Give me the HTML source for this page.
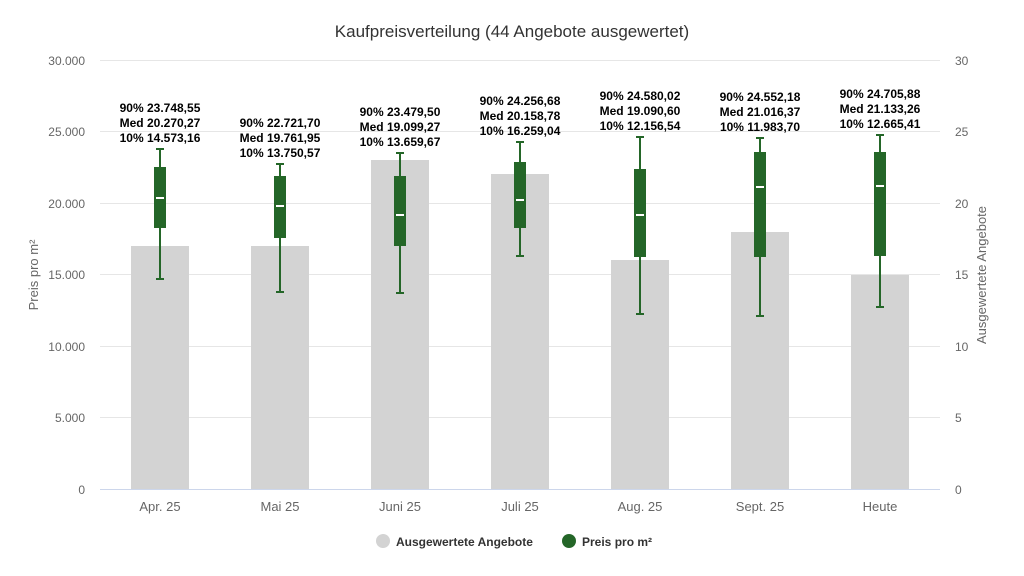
<!DOCTYPE html>
<html><head><meta charset="utf-8"><style>
body{margin:0;background:#fff;}
svg{display:block;font-family:"Liberation Sans",Arial,sans-serif;}
</style></head><body>
<svg width="1024" height="576" viewBox="0 0 1024 576">
<rect width="1024" height="576" fill="#fff"/>
<text x="512" y="37" text-anchor="middle" font-size="17" fill="#333">Kaufpreisverteilung (44 Angebote ausgewertet)</text>
<g stroke="#e6e6e6" stroke-width="1">
<line x1="100" x2="940" y1="60.5" y2="60.5"/>
<line x1="100" x2="940" y1="131.5" y2="131.5"/>
<line x1="100" x2="940" y1="203.5" y2="203.5"/>
<line x1="100" x2="940" y1="274.5" y2="274.5"/>
<line x1="100" x2="940" y1="346.5" y2="346.5"/>
<line x1="100" x2="940" y1="417.5" y2="417.5"/>
</g>
<line x1="100" x2="940" y1="489.5" y2="489.5" stroke="#ccd6eb"/>
<g font-size="12" fill="#666" text-anchor="end">
<text x="85" y="65">30.000</text><text x="85" y="136">25.000</text><text x="85" y="208">20.000</text>
<text x="85" y="279">15.000</text><text x="85" y="351">10.000</text><text x="85" y="422">5.000</text><text x="85" y="494">0</text>
</g>
<g font-size="12" fill="#666" text-anchor="start">
<text x="955" y="65">30</text><text x="955" y="136">25</text><text x="955" y="208">20</text>
<text x="955" y="279">15</text><text x="955" y="351">10</text><text x="955" y="422">5</text><text x="955" y="494">0</text>
</g>
<text transform="translate(38,275) rotate(-90)" text-anchor="middle" font-size="13" fill="#666">Preis pro m²</text>
<text transform="translate(986,275) rotate(-90)" text-anchor="middle" font-size="13" fill="#666">Ausgewertete Angebote</text>
<g fill="#d3d3d3">
<rect x="131" y="246" width="58" height="243"/>
<rect x="251" y="246" width="58" height="243"/>
<rect x="371" y="160" width="58" height="329"/>
<rect x="491" y="174" width="58" height="315"/>
<rect x="611" y="260" width="58" height="229"/>
<rect x="731" y="232" width="58" height="257"/>
<rect x="851" y="275" width="58" height="214"/>
</g>
<g stroke="#246628" stroke-width="2" fill="#246628">
<line x1="160" x2="160" y1="149" y2="279"/><line x1="156" x2="164" y1="149" y2="149"/><line x1="156" x2="164" y1="279" y2="279"/><rect x="155" y="168" width="10" height="59"/>
<line x1="280" x2="280" y1="164" y2="292"/><line x1="276" x2="284" y1="164" y2="164"/><line x1="276" x2="284" y1="292" y2="292"/><rect x="275" y="177" width="10" height="60"/>
<line x1="400" x2="400" y1="153" y2="293"/><line x1="396" x2="404" y1="153" y2="153"/><line x1="396" x2="404" y1="293" y2="293"/><rect x="395" y="177" width="10" height="68"/>
<line x1="520" x2="520" y1="142" y2="256"/><line x1="516" x2="524" y1="142" y2="142"/><line x1="516" x2="524" y1="256" y2="256"/><rect x="515" y="163" width="10" height="64"/>
<line x1="640" x2="640" y1="137" y2="314"/><line x1="636" x2="644" y1="137" y2="137"/><line x1="636" x2="644" y1="314" y2="314"/><rect x="635" y="170" width="10" height="86"/>
<line x1="760" x2="760" y1="138" y2="316"/><line x1="756" x2="764" y1="138" y2="138"/><line x1="756" x2="764" y1="316" y2="316"/><rect x="755" y="153" width="10" height="103"/>
<line x1="880" x2="880" y1="135" y2="307"/><line x1="876" x2="884" y1="135" y2="135"/><line x1="876" x2="884" y1="307" y2="307"/><rect x="875" y="153" width="10" height="102"/>
</g>
<g stroke="#fff" stroke-width="2">
<line x1="156" x2="164" y1="198" y2="198"/><line x1="276" x2="284" y1="206" y2="206"/><line x1="396" x2="404" y1="215" y2="215"/>
<line x1="516" x2="524" y1="200" y2="200"/><line x1="636" x2="644" y1="215" y2="215"/><line x1="756" x2="764" y1="187" y2="187"/><line x1="876" x2="884" y1="186" y2="186"/>
</g>
<g font-size="12" font-weight="bold" fill="#000" text-anchor="middle">
<text x="160" y="112">90% 23.748,55</text><text x="160" y="127">Med 20.270,27</text><text x="160" y="142">10% 14.573,16</text>
<text x="280" y="127">90% 22.721,70</text><text x="280" y="142">Med 19.761,95</text><text x="280" y="157">10% 13.750,57</text>
<text x="400" y="116">90% 23.479,50</text><text x="400" y="131">Med 19.099,27</text><text x="400" y="146">10% 13.659,67</text>
<text x="520" y="105">90% 24.256,68</text><text x="520" y="120">Med 20.158,78</text><text x="520" y="135">10% 16.259,04</text>
<text x="640" y="100">90% 24.580,02</text><text x="640" y="115">Med 19.090,60</text><text x="640" y="130">10% 12.156,54</text>
<text x="760" y="101">90% 24.552,18</text><text x="760" y="116">Med 21.016,37</text><text x="760" y="131">10% 11.983,70</text>
<text x="880" y="98">90% 24.705,88</text><text x="880" y="113">Med 21.133,26</text><text x="880" y="128">10% 12.665,41</text>
</g>
<g font-size="13" fill="#666" text-anchor="middle">
<text x="160" y="511">Apr. 25</text><text x="280" y="511">Mai 25</text><text x="400" y="511">Juni 25</text><text x="520" y="511">Juli 25</text>
<text x="640" y="511">Aug. 25</text><text x="760" y="511">Sept. 25</text><text x="880" y="511">Heute</text>
</g>
<circle cx="383" cy="541" r="7" fill="#d3d3d3"/>
<text x="396" y="546" font-size="12" font-weight="bold" fill="#333">Ausgewertete Angebote</text>
<circle cx="569" cy="541" r="7" fill="#246628"/>
<text x="582" y="546" font-size="12" font-weight="bold" fill="#333">Preis pro m²</text>
</svg>
</body></html>
